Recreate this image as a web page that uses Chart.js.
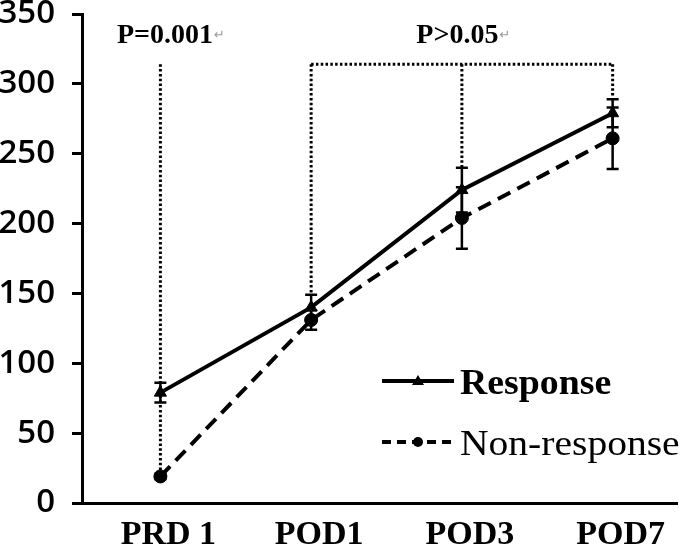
<!DOCTYPE html>
<html>
<head>
<meta charset="utf-8">
<script src="https://cdn.jsdelivr.net/npm/chart.js@4"></script>
<style>
  html, body { margin: 0; padding: 0; background: #fff; }
  canvas { display: block; }
</style>
</head>
<body>
<canvas id="chart" width="685" height="553"></canvas>
<script>
// chart values
const categories = ["PRD 1", "POD1", "POD3", "POD7"];
const responseMean = [79, 140, 224, 279];
const responseErr = [7, 9, 16, 10];
const nonResponseMean = [19, 131, 204, 261];
const nonResponseErr = [2, 7, 22, 22];
const yTicks = [0, 50, 100, 150, 200, 250, 300, 350];

// significance brackets: [from category, to category, label]
const bracketTop = 314;
const brackets = [
  { from: 0, to: 0, label: "P=0.001", drops: [0], bottoms: [nonResponseMean[0]] },
  { from: 1, to: 3, label: "P>0.05", drops: [1, 2, 3],
    bottoms: [responseMean[1] + responseErr[1], responseMean[2] + responseErr[2], responseMean[3] + responseErr[3]] },
];

function toPoints(values) {
  return values.map((v, i) => ({ x: i, y: v }));
}

// error bars drawn through the chart scales
const errorBarPlugin = {
  id: "errorBars",
  afterDatasetsDraw(chart) {
    const ctx = chart.ctx;
    const xs = chart.scales.x;
    const ys = chart.scales.y;
    const sets = [
      { mean: responseMean, err: responseErr },
      { mean: nonResponseMean, err: nonResponseErr },
    ];
    ctx.save();
    ctx.strokeStyle = "#000";
    ctx.lineWidth = 2.5;
    sets.forEach((s) => {
      s.mean.forEach((m, i) => {
        const x = xs.getPixelForValue(i);
        const yTop = ys.getPixelForValue(m + s.err[i]);
        const yBot = ys.getPixelForValue(m - s.err[i]);
        ctx.beginPath();
        ctx.moveTo(x, yTop);
        ctx.lineTo(x, yBot);
        ctx.moveTo(x - 6, yTop);
        ctx.lineTo(x + 6, yTop);
        ctx.moveTo(x - 6, yBot);
        ctx.lineTo(x + 6, yBot);
        ctx.stroke();
      });
    });
    ctx.restore();
  },
};

// dotted brackets + P labels
const bracketPlugin = {
  id: "brackets",
  beforeDatasetsDraw(chart) {
    const ctx = chart.ctx;
    const xs = chart.scales.x;
    const ys = chart.scales.y;
    const yT = ys.getPixelForValue(bracketTop);
    ctx.save();
    ctx.strokeStyle = "#000";
    ctx.lineWidth = 3;
    ctx.setLineDash([2.5, 2.3]);
    brackets.forEach((b) => {
      ctx.beginPath();
      if (b.from !== b.to) {
        ctx.moveTo(xs.getPixelForValue(b.from), yT);
        ctx.lineTo(xs.getPixelForValue(b.to), yT);
      }
      b.drops.forEach((c, k) => {
        const x = xs.getPixelForValue(c);
        ctx.moveTo(x, yT);
        ctx.lineTo(x, ys.getPixelForValue(b.bottoms[k]));
      });
      ctx.stroke();
    });
    ctx.setLineDash([]);
    ctx.textBaseline = "alphabetic";
    const labelY = ys.getPixelForValue(329);
    const centers = [0.03, 1.97];
    brackets.forEach((b, k) => {
      const x = xs.getPixelForValue(centers[k]);
      ctx.font = "bold 28px 'Liberation Serif'";
      ctx.textAlign = "center";
      ctx.fillStyle = "#000";
      ctx.fillText(b.label, x, labelY);
      const w = ctx.measureText(b.label).width;
      ctx.font = "13px 'DejaVu Sans'";
      ctx.fillStyle = "#999";
      ctx.textAlign = "left";
      ctx.fillText("\u21B5", x + w / 2 + 1, labelY - 4);
    });
    ctx.restore();
  },
};

// legend drawn inside plot (line sample with marker)
const legendPlugin = {
  id: "customLegend",
  afterDraw(chart) {
    const ctx = chart.ctx;
    const items = [
      { label: "Response", dash: [], marker: "triangle", y: 381, bold: true },
      { label: "Non-response", dash: [9, 6], marker: "circle", y: 442, bold: false },
    ];
    ctx.save();
    items.forEach((it) => {
      ctx.strokeStyle = "#000";
      ctx.fillStyle = "#000";
      ctx.lineWidth = 4;
      ctx.setLineDash(it.dash);
      ctx.beginPath();
      ctx.moveTo(382, it.y);
      ctx.lineTo(454, it.y);
      ctx.stroke();
      ctx.setLineDash([]);
      ctx.beginPath();
      if (it.marker === "triangle") {
        ctx.moveTo(418, it.y - 6);
        ctx.lineTo(424, it.y + 4);
        ctx.lineTo(412, it.y + 4);
        ctx.closePath();
      } else {
        ctx.arc(418, it.y, 5, 0, Math.PI * 2);
      }
      ctx.fill();
      ctx.save();
      ctx.translate(460, it.y + 13);
      ctx.scale(it.bold ? 1.08 : 1.13, 1);
      ctx.font = (it.bold ? "bold " : "") + "35px 'Liberation Serif'";
      ctx.textAlign = "left";
      ctx.textBaseline = "alphabetic";
      ctx.fillText(it.label, 0, 0);
      ctx.restore();
    });
    ctx.restore();
  },
};

const ctx = document.getElementById("chart").getContext("2d");
new Chart(ctx, {
  type: "line",
  data: {
    datasets: [
      {
        label: "Response",
        data: toPoints(responseMean),
        borderColor: "#000",
        backgroundColor: "#000",
        borderWidth: 4,
        pointStyle: "triangle",
        pointRadius: 7,
        pointBorderWidth: 1,
        tension: 0,
      },
      {
        label: "Non-response",
        data: toPoints(nonResponseMean),
        borderColor: "#000",
        backgroundColor: "#000",
        borderWidth: 4,
        borderDash: [14, 8],
        pointStyle: "circle",
        pointRadius: 6.5,
        pointBorderWidth: 1,
        tension: 0,
      },
    ],
  },
  options: {
    responsive: false,
    animation: false,
    devicePixelRatio: 1,
    layout: { padding: { top: 14, right: 3, left: 0, bottom: 0 } },
    plugins: {
      legend: { display: false },
      tooltip: { enabled: false },
    },
    scales: {
      x: {
        type: "linear",
        min: -0.52,
        max: 3.427,
        afterBuildTicks: (scale) => {
          scale.ticks = categories.map((c, i) => ({ value: i }));
        },
        afterFit: (scale) => {
          scale.height = 50;
          scale.paddingLeft = 0;
          scale.paddingRight = 0;
        },
        grid: { display: false, drawTicks: false },
        border: { display: true, color: "#000", width: 3 },
        ticks: {
          autoSkip: false,
          maxRotation: 0,
          padding: 12,
          labelOffset: 8,
          color: "#000",
          font: { family: "'Liberation Serif'", weight: "bold", size: 34 },
          callback: (v) => categories[v],
        },
      },
      y: {
        min: 0,
        max: 350,
        afterBuildTicks: (scale) => {
          scale.ticks = yTicks.map((v) => ({ value: v }));
        },
        afterFit: (scale) => {
          scale.width = 82;
          scale.paddingTop = 0;
          scale.paddingBottom = 0;
        },
        grid: {
          display: true,
          drawOnChartArea: false,
          drawTicks: true,
          tickLength: 10,
          color: "#000",
          lineWidth: 3,
        },
        border: { display: true, color: "#000", width: 3 },
        ticks: {
          padding: 17,
          color: "#000",
          font: { family: "'Open Sans'", weight: "600", size: 33 },
        },
      },
    },
  },
  plugins: [bracketPlugin, errorBarPlugin, legendPlugin],
});
</script>
</body>
</html>
